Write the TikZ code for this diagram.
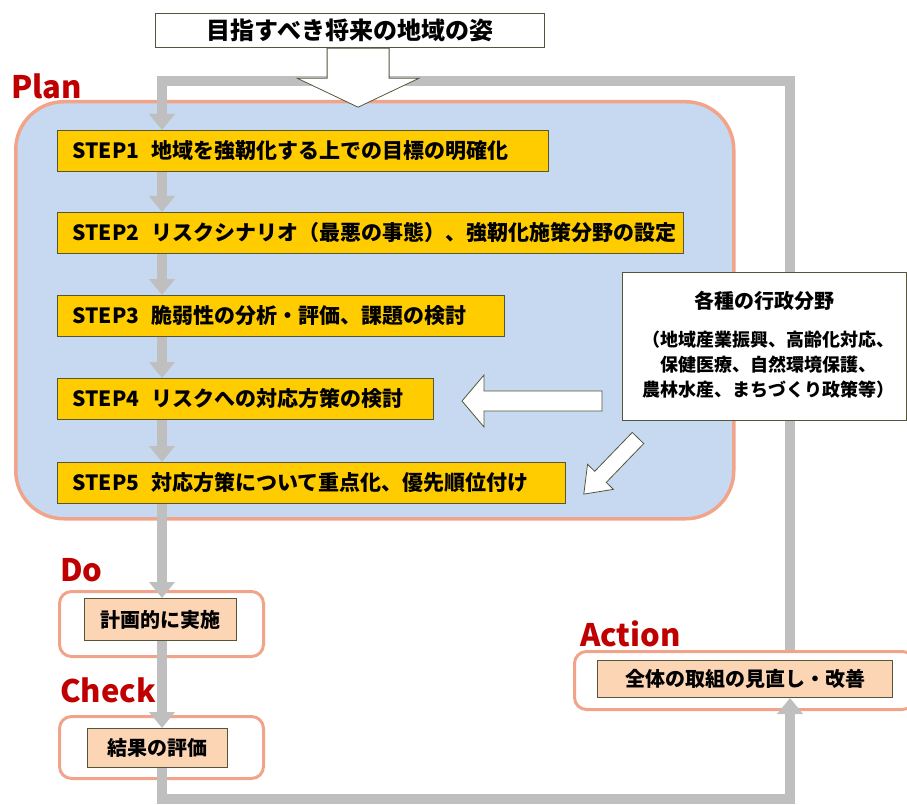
\documentclass[tikz,border=0pt]{standalone}
\usepackage{fontspec}
\setmainfont{Noto Sans CJK JP}
\usetikzlibrary{arrows.meta,calc}
\pgfdeclarelayer{back}
\pgfdeclarelayer{mid}
\pgfsetlayers{back,mid,main}
\definecolor{planblue}{HTML}{C6D9F0}
\definecolor{salmon}{HTML}{F2A48A}
\definecolor{stepyellow}{HTML}{FFCC00}
\definecolor{peach}{HTML}{FCD5B5}
\definecolor{olivedark}{HTML}{55553C}
\definecolor{flowgray}{HTML}{BFBFBF}
\definecolor{labelred}{HTML}{C00000}
\begin{document}
\begin{tikzpicture}[x=1pt,y=-1pt,
  stepbox/.style={draw=olivedark, line width=1pt, fill=stepyellow, anchor=north west,
    minimum height=41pt, inner xsep=15pt, inner ysep=0pt,
    font=\fontsize{21}{24}\selectfont\bfseries, align=left},
  innerbox/.style={draw=olivedark, line width=1pt, fill=peach, anchor=north west,
    inner sep=0pt, font=\fontsize{20}{24}\selectfont\bfseries, align=center},
  outerbox/.style={draw=salmon, line width=3pt, fill=white, rounded corners=12pt,
    anchor=north west, inner sep=0pt},
  phase/.style={text=labelred, font=\fontsize{31}{34}\selectfont\bfseries, anchor=west, inner sep=0pt},
  flow/.style={draw=flowgray, line width=10pt, line join=miter},
  flowtip/.style={flow, -{Triangle[width=25pt,length=16pt]}},
  hollow/.style={draw=olivedark, line width=0.8pt, fill=white, line join=miter}
]
\useasboundingbox (0,0) rectangle (907,805);

% ---------- background frames ----------
\begin{pgfonlayer}{back}
  \node[draw=salmon, line width=3.5pt, fill=planblue, rounded corners=48pt, anchor=north west,
        minimum width=718pt, minimum height=417pt, inner sep=0pt] (planbox) at (14,100) {};
  \node[outerbox, minimum width=204pt, minimum height=65pt] (dobox) at (58,590) {};
  \node[outerbox, minimum width=204pt, minimum height=62pt] (chbox) at (58,715) {};
  \node[outerbox, minimum width=340pt, minimum height=58pt] (actbox) at (573,650) {};
\end{pgfonlayer}

% ---------- labels ----------
\node[phase] (plan) at (11,86) {Plan};
\node[phase] (do) at (60,570) {Do};
\node[phase] (check) at (60,690) {Check};
\node[phase] (action) at (580,634) {Action};

% ---------- step boxes ----------
\node[stepbox, text width=461pt] (s1) at (57,130) {STEP1\hspace{12pt}地域を強靭化する上での目標の明確化};
\node[stepbox, text width=596pt] (s2) at (57,212) {STEP2\hspace{12pt}リスクシナリオ（最悪の事態）、強靭化施策分野の設定};
\node[stepbox, text width=417pt] (s3) at (57,295) {STEP3\hspace{12pt}脆弱性の分析・評価、課題の検討};
\node[stepbox, text width=346pt] (s4) at (57,378) {STEP4\hspace{12pt}リスクへの対応方策の検討};
\node[stepbox, text width=478pt] (s5) at (57,462) {STEP5\hspace{12pt}対応方策について重点化、優先順位付け};

% ---------- inner boxes ----------
\node[innerbox, minimum width=152pt, minimum height=42pt] (doin) at (84,598) {計画的に実施};
\node[innerbox, minimum width=140pt, minimum height=39pt] (chin) at (87,728) {結果の評価};
\node[innerbox, minimum width=295pt, minimum height=37pt] (actin) at (597,660) {全体の取組の見直し・改善};

% ---------- right box ----------
\node[draw=olivedark, line width=1pt, fill=white, anchor=north west, minimum width=284pt,
      minimum height=148pt, inner sep=0pt] (rb) at (622,272) {};
\node[font=\fontsize{20}{24}\selectfont\bfseries, inner sep=0pt] (rbt) at (764,301) {各種の行政分野};
\node[font=\fontsize{18}{25}\selectfont\bfseries, align=center, inner sep=0pt] (rbs) at (768,365)
  {（地域産業振興、高齢化対応、\\保健医療、自然環境保護、\\農林水産、まちづくり政策等）};

% ---------- goal box ----------
\node[draw=olivedark, line width=1.2pt, fill=white, anchor=north west, minimum width=389pt,
      minimum height=34pt, inner sep=0pt, font=\fontsize{24}{28}\selectfont\bfseries] (goal) at (155,13)
      {目指すべき将来の地域の姿};

% ---------- gray flow loop ----------
\coordinate (tl) at (162,81);
\coordinate (tr) at (790,81);
\coordinate (bl) at (162,799);
\coordinate (br) at (790,799);
\begin{pgfonlayer}{mid}
  \draw[flowtip] (tr |- actbox.north) -- (tr) -- (tl) -- (tl |- s1.north);
  \draw[flowtip] (tl |- s1.south) -- (tl |- s2.north);
  \draw[flowtip] (tl |- s2.south) -- (tl |- s3.north);
  \draw[flowtip] (tl |- s3.south) -- (tl |- s4.north);
  \draw[flowtip] (tl |- s4.south) -- (tl |- s5.north);
  \draw[flowtip] (tl |- s5.south) -- (tl |- doin.north);
  \draw[flowtip] (tl |- doin.south) -- (tl |- chin.north);
  \draw[flowtip] (tl |- chin.south) -- (bl) -- (br) -- (tr |- actin.south);
\end{pgfonlayer}

% ---------- hollow block arrows ----------
\begin{scope}[shift={($(goal.south)+(8,0)$)}, rotate=-90]
  \draw[hollow] (0,-31) -- (30,-31) -- (30,-61) -- (59,0) -- (30,61) -- (30,31) -- (0,31) -- cycle;
\end{scope}
\begin{scope}[shift={(602,401)}, rotate=180]
  \draw[hollow] (0,-10) -- (118,-10) -- (118,-26) -- (140,0) -- (118,26) -- (118,10) -- (0,10) -- cycle;
\end{scope}
\begin{scope}[shift={(638,438)}, rotate=226]
  \draw[hollow] (0,-8) -- (54,-8) -- (54,-18) -- (78,0) -- (54,18) -- (54,8) -- (0,8) -- cycle;
\end{scope}
\end{tikzpicture}
\end{document}
